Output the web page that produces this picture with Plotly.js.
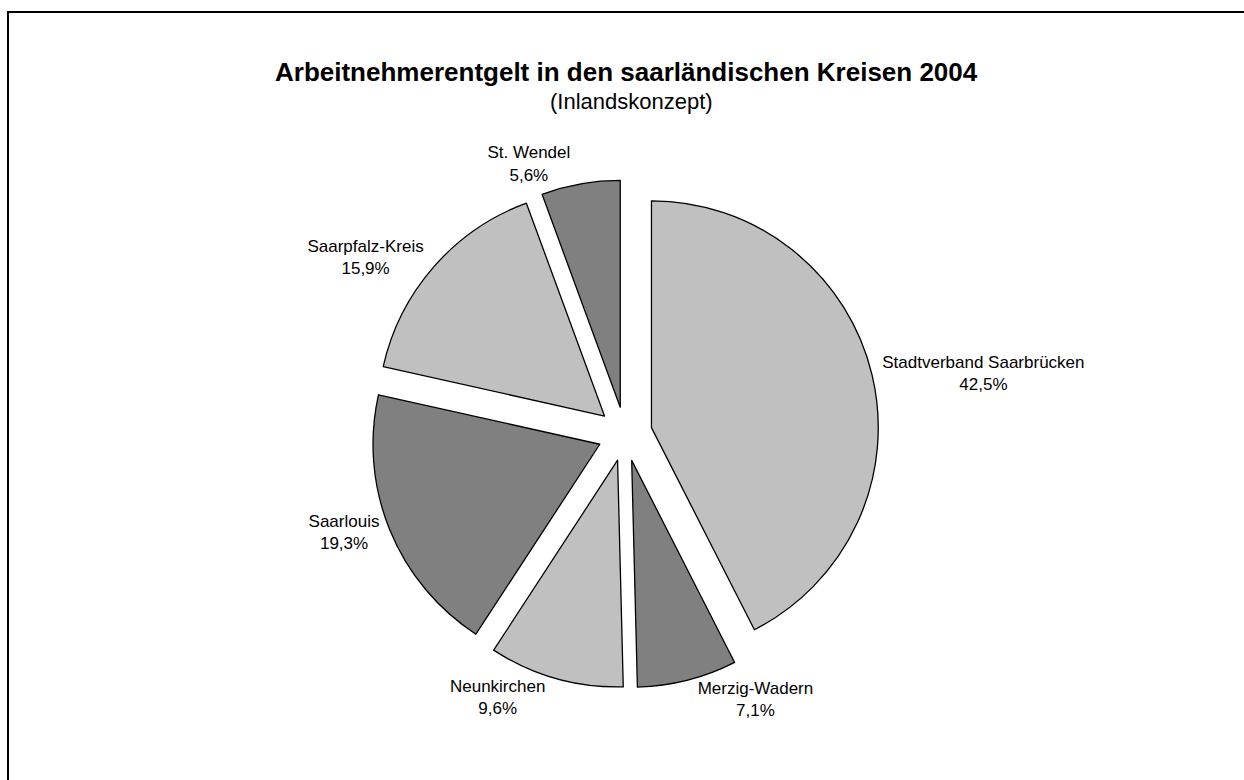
<!DOCTYPE html>
<html>
<head>
<meta charset="utf-8">
<script src="https://cdn.plot.ly/plotly-3.0.1.min.js"></script>
<style>
html,body{margin:0;padding:0;background:#fff;}
#chart{width:1244px;height:780px;}
</style>
</head>
<body>
<div id="chart"></div>
<script>
const districts = ["Stadtverband Saarbrücken", "Merzig-Wadern", "Neunkirchen", "Saarlouis", "Saarpfalz-Kreis", "St. Wendel"];
const shares = [42.5, 7.1, 9.6, 19.3, 15.9, 5.6];
const sliceColors = ["#c0c0c0", "#808080", "#c0c0c0", "#808080", "#c0c0c0", "#808080"];
const titleText = "Arbeitnehmerentgelt in den saarländischen Kreisen 2004";
const subtitleText = "(Inlandskonzept)";

const W = 1244, H = 780;
const cx = 625, cy = 434, side = 508;

const trace = {
  type: "pie",
  labels: districts,
  values: shares,
  sort: false,
  direction: "clockwise",
  rotation: 0,
  pull: shares.map(() => 0.12),
  marker: {colors: sliceColors, line: {color: "#000", width: 1.3}},
  texttemplate: "%{label}<br>%{value:.1f}%",
  textposition: "outside",
  textfont: {family: "Liberation Sans, Arial, sans-serif", size: 17, color: "#000"},
  hoverinfo: "label+value",
  showlegend: false,
  automargin: false,
  domain: {
    x: [(cx - side / 2) / W, (cx + side / 2) / W],
    y: [1 - (cy + side / 2) / H, 1 - (cy - side / 2) / H]
  }
};

const layout = {
  width: W, height: H,
  margin: {l: 0, r: 0, t: 0, b: 0},
  paper_bgcolor: "#fff",
  separators: ",.",
  showlegend: false,
  font: {family: "Liberation Sans, Arial, sans-serif", color: "#000"},
  shapes: [{
    type: "rect", xref: "paper", yref: "paper",
    x0: 8 / W, x1: 1.02, y0: -0.02, y1: 1 - 12 / H,
    line: {color: "#000", width: 2}, fillcolor: "rgba(0,0,0,0)"
  }],
  annotations: [
    {text: "<b>" + titleText + "</b>", xref: "paper", yref: "paper", x: 626 / W, y: 1 - 72 / H,
     showarrow: false, xanchor: "center", yanchor: "middle",
     font: {size: 26, family: "Liberation Sans, Arial, sans-serif", color: "#000"}},
    {text: subtitleText, xref: "paper", yref: "paper", x: 631 / W, y: 1 - 102 / H,
     showarrow: false, xanchor: "center", yanchor: "middle",
     font: {size: 22, family: "Liberation Sans, Arial, sans-serif", color: "#000"}}
  ]
};

Plotly.newPlot("chart", [trace], layout, {displayModeBar: false, staticPlot: true});
</script>
</body>
</html>
